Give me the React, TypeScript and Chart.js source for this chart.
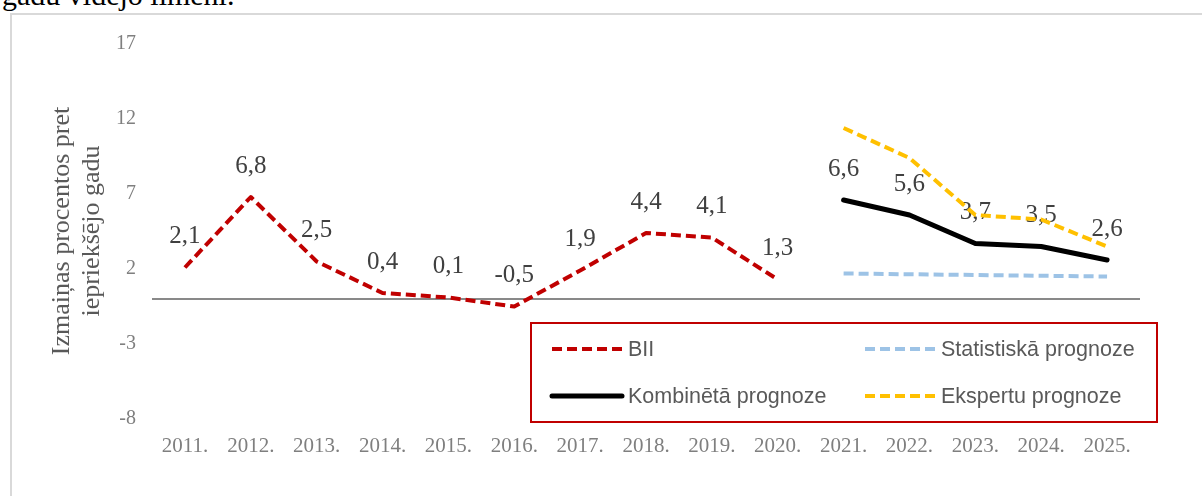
import React, { useEffect, useRef } from 'react';
import { Chart, registerables } from 'chart.js';

Chart.register(...registerables);

const years = ['2011.', '2012.', '2013.', '2014.', '2015.', '2016.', '2017.', '2018.', '2019.', '2020.', '2021.', '2022.', '2023.', '2024.', '2025.'];
const bii = [2.1, 6.8, 2.5, 0.4, 0.1, -0.5, 1.9, 4.4, 4.1, 1.3, null, null, null, null, null];
const kombineta = [null, null, null, null, null, null, null, null, null, null, 6.6, 5.6, 3.7, 3.5, 2.6];
const statistiska = [null, null, null, null, null, null, null, null, null, null, 1.7, 1.65, 1.6, 1.55, 1.5];
const eksperti = [null, null, null, null, null, null, null, null, null, null, 11.4, 9.4, 5.6, 5.3, 3.5];
const yMin = -8;
const yMax = 17;
const yStep = 5;
const yTitle = ['Izmaiņas procentos pret', 'iepriekšējo gadu'];
const seriesNames = ['BII', 'Kombinētā prognoze', 'Statistiskā prognoze', 'Ekspertu prognoze'];
const topText = 'gadu vidējo līmeni.';

const RED = '#c00000';
const BLACK = '#000000';
const BLUE = '#9dc3e6';
const YELLOW = '#ffc000';
const SERIF = '"Liberation Serif", "Times New Roman", serif';
const SANS = '"Liberation Sans", Arial, sans-serif';

const fmt = (v: number) => v.toFixed(1).replace('.', ',');

const zeroLinePlugin = {
  id: 'zeroLine',
  beforeDatasetsDraw(chart: any) {
    const { ctx, chartArea, scales } = chart;
    const y = scales.y.getPixelForValue(0);
    ctx.save();
    ctx.strokeStyle = '#898989';
    ctx.lineWidth = 2;
    ctx.beginPath();
    ctx.moveTo(chartArea.left, y);
    ctx.lineTo(chartArea.right, y);
    ctx.stroke();
    ctx.restore();
  },
};

const labelPlugin = {
  id: 'valueLabels',
  afterDatasetDraw(chart: any, args: any) {
    if (args.index !== 0 && args.index !== 1) return;
    const { ctx } = chart;
    const ds = chart.data.datasets[args.index];
    const meta = args.meta;
    ctx.save();
    ctx.font = `25px ${SERIF}`;
    ctx.fillStyle = '#404040';
    ctx.textAlign = 'center';
    ctx.textBaseline = 'middle';
    meta.data.forEach((pt: any, i: number) => {
      const v = ds.data[i];
      if (v === null || v === undefined) return;
      ctx.fillText(fmt(v), pt.x, pt.y - 31);
    });
    ctx.restore();
  },
};

const titleLegendPlugin = {
  id: 'titleLegend',
  afterDraw(chart: any) {
    const { ctx } = chart;
    ctx.save();
    // y axis title
    ctx.font = `26px ${SERIF}`;
    ctx.fillStyle = '#595959';
    ctx.textAlign = 'center';
    ctx.textBaseline = 'middle';
    const xs = [62, 92];
    yTitle.forEach((line, i) => {
      ctx.save();
      ctx.translate(xs[i], 231);
      ctx.rotate(-Math.PI / 2);
      ctx.fillText(line, 0, 0);
      ctx.restore();
    });
    // legend box
    ctx.fillStyle = '#ffffff';
    ctx.fillRect(531, 323, 626, 99);
    ctx.strokeStyle = RED;
    ctx.lineWidth = 2;
    ctx.strokeRect(531, 323, 626, 99);
    const items = [
      { name: seriesNames[0], color: RED, dash: [10, 5], w: 4, x: 552, y: 349 },
      { name: seriesNames[2], color: BLUE, dash: [10, 5], w: 4, x: 865, y: 349 },
      { name: seriesNames[1], color: BLACK, dash: [], w: 5, x: 552, y: 396 },
      { name: seriesNames[3], color: YELLOW, dash: [10, 5], w: 4, x: 865, y: 396 },
    ];
    items.forEach((it) => {
      ctx.save();
      ctx.strokeStyle = it.color;
      ctx.lineWidth = it.w;
      ctx.lineCap = it.dash.length ? 'butt' : 'round';
      ctx.setLineDash(it.dash);
      ctx.beginPath();
      ctx.moveTo(it.x, it.y);
      ctx.lineTo(it.x + 70, it.y);
      ctx.stroke();
      ctx.restore();
      ctx.font = `21.5px ${SANS}`;
      ctx.fillStyle = '#595959';
      ctx.textAlign = 'left';
      ctx.textBaseline = 'middle';
      ctx.fillText(it.name, it.x + 76, it.y + 1);
    });
    ctx.restore();
  },
};

export default function App() {
  const ref = useRef<HTMLCanvasElement | null>(null);
  useEffect(() => {
    if (!ref.current) return;
    const chart = new Chart(ref.current, {
      type: 'line',
      data: {
        labels: years,
        datasets: [
          { label: seriesNames[0], data: bii, borderColor: RED, borderWidth: 4, borderDash: [10, 5], pointRadius: 0, tension: 0, order: 3, borderJoinStyle: 'round' },
          { label: seriesNames[1], data: kombineta, borderColor: BLACK, borderWidth: 5, pointRadius: 0, tension: 0, order: 2, borderJoinStyle: 'round', borderCapStyle: 'round' },
          { label: seriesNames[2], data: statistiska, borderColor: BLUE, borderWidth: 4, borderDash: [10, 5], pointRadius: 0, tension: 0, order: 1 },
          { label: seriesNames[3], data: eksperti, borderColor: YELLOW, borderWidth: 4, borderDash: [10, 5], pointRadius: 0, tension: 0, order: 0, borderJoinStyle: 'round' },
        ],
      } as any,
      options: {
        animation: false,
        responsive: false,
        devicePixelRatio: 1,
        events: [],
        layout: { padding: { left: 0, top: 44, right: 62, bottom: 37 } },
        plugins: { legend: { display: false }, tooltip: { enabled: false } },
        scales: {
          x: {
            offset: true,
            grid: { display: false, drawTicks: false },
            border: { display: false },
            ticks: { font: { family: SERIF, size: 21 }, color: '#7f7f7f', padding: 15, maxRotation: 0, autoSkip: false },
            afterFit: (s: any) => { s.height = 40; },
          },
          y: {
            min: yMin,
            max: yMax,
            grid: { display: false, drawTicks: false },
            border: { display: false },
            ticks: { stepSize: yStep, font: { family: SERIF, size: 20 }, color: '#7f7f7f', padding: 16, callback: (v: any) => String(v) },
            afterFit: (s: any) => { s.width = 152; },
          },
        },
      } as any,
      plugins: [zeroLinePlugin, labelPlugin, titleLegendPlugin],
    });
    return () => chart.destroy();
  }, []);

  return (
    <div style={{ position: 'absolute', left: 0, top: 0, width: 1202, height: 496, overflow: 'hidden', background: '#fff' }}>
      <div style={{ position: 'absolute', left: 2, top: -20, font: `30px ${SERIF}`, lineHeight: '30px', color: '#000', whiteSpace: 'nowrap' }}>{topText}</div>
      <div style={{ position: 'absolute', left: 10, top: 13, width: 1300, height: 600, borderLeft: '2px solid #d9d9d9', borderTop: '2px solid #d9d9d9' }} />
      <canvas ref={ref} width={1202} height={496} style={{ position: 'absolute', left: 0, top: 0, width: 1202, height: 496 }} />
    </div>
  );
}
